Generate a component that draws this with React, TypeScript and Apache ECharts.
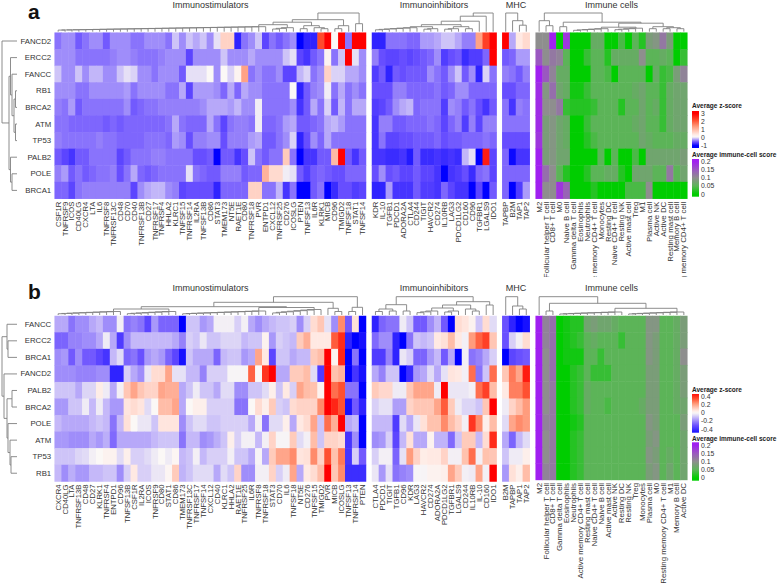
import React, { useEffect, useRef } from "react";
import * as echarts from "echarts";

const rowsA = ["FANCD2", "ERCC2", "FANCC", "RB1", "BRCA2", "ATM", "TP53", "PALB2", "POLE", "BRCA1"];
const rowsB = ["FANCC", "ERCC2", "BRCA1", "FANCD2", "PALB2", "BRCA2", "POLE", "ATM", "TP53", "RB1"];

const aStimLabels = ["CSF1R", "TNFRSF9", "ICOS", "CD40LG", "CXCR4", "LTA", "IL6", "TNFRSF8", "TNFRSF13C", "CD48", "CD70", "CD40", "TNFRSF13B", "CD27", "TNFRSF17", "TNFRSF4", "HHLA2", "KLRC1", "TNFSF15", "TNFRSF14", "IL2RA", "TNFSF13B", "CD86", "STAT3", "TMEM173", "NT5E", "RAET1E", "CD80", "TNFRSF18", "PVR", "ENTPD1", "CXCL12", "TNFRSF25", "CD276", "ICOSLG", "PTEN", "TNFSF13", "IL6R", "KLRK1", "MICB", "CD96", "TMIGD2", "TNFSF18", "STAT1", "TNFSF14"];
const aInhLabels = ["KDR", "IL-10", "TGFB1", "PDCD1", "ADORA2A", "CTLA4", "CD244", "TIGIT", "HAVCR2", "CD274", "IL10RB", "LAG3", "PDCD1LG2", "CD160", "CD96", "TGFBR1", "LGALS9", "IDO1"];
const aMhcLabels = ["TAPBP", "B2M", "TAP1", "TAP2"];
const aCellLabels = ["M2", "Follicular helper T cell", "CD8+ T cell", "M0", "Naive B cell", "Gamma delta T cell", "Eosinophils", "Neutrophils", "Active memory CD4+ T cell", "Monocytes", "Resting DC", "Naive CD4+ T cell", "Resting NK", "Active mast cell", "Treg", "M1", "Plasma cell", "Active NK", "Active DC", "Resting mast cell", "Memory B cell", "Resting memory CD4+ T cell"];
const bStimLabels = ["CXCR4", "CD40LG", "LTA", "TNFRSF13B", "CD48", "CD27", "KLRK1", "TNFRSF4", "ENTPD1", "CD96", "TNFSF13B", "CSF1R", "IL2RA", "ICOS", "TNFRSF9", "CD80", "STAT1", "CD86", "TMEM173", "TNFRSF13C", "TNFRSF17", "TNFSF14", "CXCL12", "CD40", "KLRC1", "HHLA2", "RAET1E", "TNFRSF25", "IL6R", "TNFRSF8", "TNFRSF18", "STAT3", "CD70", "IL6", "TNFSF18", "NT5E", "CD276", "TNFSF15", "TMIGD2", "PVR", "MICB", "ICOSLG", "TNFSF13", "TNFRSF14", "PTEN"];
const bInhLabels = ["CTLA4", "PDCD1", "TIGIT", "TGFB1", "CD96", "KDR", "LAG3", "HAVCR2", "CD274", "ADORA2A", "PDCD1LG2", "TGFBR1", "LGALS9", "CD244", "IL10RB", "IL-10", "CD160", "IDO1"];
const bMhcLabels = ["B2M", "TAPBP", "TAP1", "TAP2"];
const bCellLabels = ["M2", "Follicular helper T cell", "CD8+ T cell", "Gamma delta T cell", "Eosinophils", "Neutrophils", "Active memory CD4+ T cell", "Resting mast cell", "Naive CD4+ T cell", "Naive B cell", "Active mast cell", "Active NK", "Resting DC", "Resting NK", "Treg", "Monocytes", "Plasma cell", "M0", "Resting memory CD4+ T cell", "M1", "Memory B cell", "Active DC"];

const aStim = [
  [-.4,-.3,-.3,-.5,-.4,-.3,-.3,-.5,-.3,-.3,-.3,-.4,-.4,-.3,-.3,-.3,-.4,-.1,-.3,-.1,-.2,-.1,-.3,0,.7,.7,-.8,-.4,-.3,-.1,-.6,-.4,-.5,-.4,-.3,-1,-.8,-.8,2.2,3,.1,3,-.4,3,3],
  [-.3,-.3,-.3,-.4,-.4,-.4,-.4,-.4,-.35,-.3,-.3,-.35,-.4,-.4,-.4,-.35,-.3,-.3,-.3,-.6,-.3,-.3,-.3,-.3,-.1,-.3,-.3,-.3,-.2,-.3,-.3,-.3,-.3,-.1,0,-.6,-.7,-.5,-.4,.2,-.4,-.1,3,0,-.3],
  [-.1,-.3,-.3,-.1,-.3,-.15,-.15,-.3,-.3,-.1,0,-.05,-.3,-.3,-.4,-.3,-.3,-.3,-.5,0,0,0,.1,-.3,.1,-.05,.2,1.3,-.4,-.3,-.4,-.4,-.3,-.6,-.6,-.15,-.05,-.4,-.3,.7,-.05,-.05,-.2,-.2,-.3],
  [-.3,-.3,-.3,-.4,-.4,-.3,-.3,-.3,-.3,-.3,-.25,-.4,-.3,-.3,-.3,-.3,-.4,-.4,-.2,-.6,-.25,-.25,-.25,-.3,-.45,-.2,-.45,-.2,-.3,-.3,-.4,-.4,-.4,-.4,.1,-.8,-.5,-.35,-.3,.05,-.4,-.2,-.4,-.3,-.4],
  [-.35,-.4,-.25,-.5,-.4,-.4,-.4,-.4,-.4,-.4,-.3,-.5,-.45,-.4,-.4,-.35,-.35,-.35,-.35,-.35,-.35,-.3,-.2,-.2,-.2,-.25,-.15,-.3,-.3,.05,-.4,-.4,-.4,-.4,-.3,-.7,-.5,-.2,-.4,-.05,-.5,-.15,-.4,-.2,-.2],
  [-.4,-.4,-.45,-.45,-.45,-.45,-.45,-.5,-.45,-.5,-.45,-.45,-.45,-.45,-.45,-.45,-.4,-.2,-.4,-.45,-.45,-.45,-.2,-.4,-.6,-.4,-.35,-.35,-.4,.05,-.45,-.45,-.4,-.25,-.2,-.5,-.5,-.45,-.4,-.2,-.15,-.25,-.4,-.4,-.4],
  [-.35,-.4,-.4,-.4,-.4,-.4,-.35,-.4,-.4,-.45,-.45,-.45,-.45,-.4,-.4,-.4,-.45,-.25,-.3,-.55,-.35,-.35,-.3,-.3,-.55,-.35,-.35,-.35,-.25,-.2,-.5,-.5,-.4,-.3,-.05,-.8,-.55,-.3,-.45,-.2,-.4,-.4,-.4,-.4,-.4],
  [-.5,-.6,-.7,-.5,-.5,-.4,-.4,-.4,-.4,-.6,-.5,-.4,-.4,-.4,-.35,-.35,-.4,-.4,-.4,-.4,-.55,-.55,-.5,-1,-.5,-.5,-.7,-.55,-.1,-.4,-.5,-.4,-.4,.8,-.4,-1,-.7,-.7,-.5,-.5,1,3,-.5,-.7,-.5],
  [-.35,-.25,-.5,-.4,-.5,-.45,-.4,-.4,-.35,-.55,-.4,-.2,-.45,-.5,-.45,-.4,-.4,-.4,-.4,0,-.4,-.45,-.5,-.5,-.35,-.35,-.35,-.5,-.45,-.45,1.1,.6,.6,.05,0,-.5,-.65,-.5,-.45,-.5,-.55,-.55,-.45,-.45,-.45],
  [-.45,-.45,-.6,-.4,-.35,-.35,-.35,-.35,-.35,-.35,-.35,-.6,-.3,-.2,-.15,-.15,-.3,-.35,-.6,-.55,-.55,-.55,-.55,-.8,-.45,-.45,-.45,-.45,.7,.7,-.4,-.4,-.15,-.7,-.4,-1,-1,-.5,-.4,-1,-.75,-.55,-.55,-.65,-.6],
];
const aInh = [
  [-.8,-.8,-.4,-.4,-.4,-.45,-.45,-.25,-.25,-.2,-.1,-.1,-.2,-.35,-.35,1.3,2.3,3],
  [-.35,-.55,-.6,-.6,-.55,-.6,-.55,-.5,-.45,-.3,-.65,-.55,-.5,-.75,-.65,-.65,-.45,3],
  [-.65,-.5,-.8,-.5,-.55,-.5,-.5,-.5,-.3,-.4,-.5,-.3,-.1,-.5,-.3,-.8,-.05,-.4],
  [-.55,-.55,-.55,-.35,-.35,-.45,-.45,-.45,-.45,-.4,-.5,-.45,-.3,-.3,-.45,-.45,-.45,-.45],
  [-.65,-.6,-.5,-.3,-.2,-.15,-.45,-.4,-.4,-.4,-.65,-.3,-.35,-.5,-.4,-.55,-.7,-.5],
  [-.7,-.35,-.35,-.5,-.5,-.45,-.45,-.45,-.4,-.45,-.6,-.45,-.35,-.65,-.35,-.6,-.35,-.35],
  [-.7,-.4,-.6,-.6,-.55,-.55,-.5,-.5,-.5,-.45,-.55,-.5,-.5,-.45,-.45,-.45,-.4,-.45],
  [-.7,-.7,-.75,-.75,-.7,-.85,-.5,-.75,-.75,-.7,-.75,-.7,-.75,-.15,0,-1,2.7,-.6],
  [-.55,-.3,-.55,-.5,-.6,-.6,-.5,-.6,-.6,-.7,-1,-.7,-.65,-.55,-.75,-.45,-.4,-.6],
  [-.8,-.8,-.25,-.7,-.7,-.7,-.5,-.65,-.65,-.7,-.45,-.6,-.7,-.7,-1,-.6,-1,-.5],
];
const aMhc = [
  [3,-.2,.4,.6],
  [-.5,-.45,-.25,-.25],
  [-.35,-.4,-.5,-.35],
  [-.55,-.55,-.45,-.45],
  [-.4,-.7,-.35,-.4],
  [-.4,-.4,-.4,-.4],
  [-.55,-.55,-.55,-.55],
  [-.45,-.95,-.7,-.7],
  [-.45,-.45,-.45,-.45],
  [-.45,-1,-.65,-.25],
];
const aCell = [
  [.1,.1,.2,0,.18,0,0,0,.06,.06,0,0,.04,0,.05,.02,.08,.09,.12,.08,0,0],
  [.15,.1,.12,.11,.05,0,0,.03,.05,.05,.02,.06,.06,.06,.06,.1,.05,.05,.06,.05,0,.03],
  [.2,.15,.11,.06,.06,0,0,0,.05,.05,.04,0,.05,.05,.05,.05,0,.06,.03,.04,.08,.11],
  [.19,.09,.13,.07,.06,.01,.01,.03,.05,.05,.05,.05,.05,.05,.06,.07,.05,.05,.03,.06,.07,.07],
  [.19,.1,.1,.12,.03,.02,.02,.02,.03,.05,.05,.05,.02,.05,.05,.07,.05,.06,.03,.06,.07,.07],
  [.19,.08,.09,.07,.06,0,0,.03,.05,.05,.05,.05,.05,.05,.06,.07,.05,.05,.03,.06,.07,.07],
  [.18,.08,.09,.07,.06,0,0,.02,.04,.05,.05,.05,.05,.05,.05,.07,.06,.05,.05,.05,.06,.06],
  [.2,.08,.09,.07,.07,0,0,0,0,.05,0,.05,0,0,.04,0,.07,.07,.07,.07,.07,.08],
  [.2,.13,.1,.05,.02,0,0,.02,.05,.05,.06,.06,.02,0,.07,.07,.07,.05,.05,.12,.05,.07],
  [.2,.1,.1,.18,.14,0,0,0,.02,0,0,0,0,.04,.04,.04,.1,0,0,0,0,0],
];

const bStim = [
  [-.15,-.15,-.25,-.2,-.2,-.15,-.12,-.2,-.2,-.02,-.25,-.22,-.25,-.35,-.18,-.28,-.28,-.28,-.55,-.1,-.1,-.18,-.15,-.02,-.02,-.02,-.08,-.02,-.15,-.2,-.15,-.12,-.1,-.1,-.08,-.2,-.08,.08,.13,-.05,-.2,.25,-.3,.07,-.55],
  [-.28,-.28,-.22,-.22,-.2,-.2,-.15,-.03,-.15,-.38,-.2,-.12,-.12,-.12,-.12,-.12,-.12,-.15,-.22,-.08,-.1,-.04,-.1,-.1,-.07,-.07,-.07,-.12,-.1,-.1,.02,-.18,-.08,-.1,-.12,.12,.18,.05,.05,.05,.33,.42,-.45,-.55,-.5],
  [-.2,-.18,-.3,-.2,-.3,-.3,-.35,-.4,-.12,-.06,-.28,-.25,-.32,-.18,-.15,-.18,-.28,-.35,-.5,-.1,-.15,-.15,-.15,-.28,-.12,-.1,-.1,-.18,-.15,.2,.05,-.35,-.1,-.1,-.15,-.12,-.12,.12,.15,.5,.02,.43,-.55,-.25,-.55],
  [-.2,-.2,-.2,-.22,-.22,-.22,-.2,-.2,-.45,-.45,-.08,-.15,-.2,-.04,.08,.08,.2,-.05,-.05,-.12,-.12,-.22,-.08,-.08,-.08,-.01,-.01,-.01,.32,0,.4,.5,-.15,-.15,.12,.12,.15,-.06,-.38,.5,.14,.17,-.55,-.4,-.5],
  [-.1,-.1,-.1,-.15,-.07,-.07,.04,-.03,-.15,-.02,.13,.2,.13,.1,.1,.2,.18,.18,-.15,-.1,-.03,-.1,-.1,-.15,-.06,-.06,-.2,-.2,-.1,-.1,-.06,.03,-.1,.05,-.08,.2,.15,.14,.02,.5,.3,.35,-.25,-.25,-.55],
  [-.18,-.18,-.1,-.1,-.03,-.12,-.03,-.12,-.18,-.18,.06,.08,.06,-.06,0,.15,.15,.2,-.15,0,.03,.03,-.08,-.08,-.08,-.08,-.25,-.25,0,.08,.03,.12,-.08,-.1,.08,.1,.1,.1,.25,.5,.43,.35,-.5,-.3,-.45],
  [-.12,-.15,-.15,-.15,-.15,-.12,-.1,-.12,-.25,-.12,.07,0,-.04,-.04,-.1,.06,.06,.06,-.2,-.1,-.06,-.06,-.1,-.1,-.08,-.08,-.08,-.08,-.15,-.02,-.25,-.06,-.06,.03,-.15,.05,.08,.2,-.1,.3,.18,.5,-.15,-.12,-.55],
  [-.18,-.18,-.2,-.2,-.2,-.15,-.18,-.14,-.27,-.15,-.15,-.15,-.15,-.15,-.12,-.1,-.1,-.1,-.25,-.12,-.12,-.2,-.18,-.14,-.1,.03,-.08,-.02,-.02,-.12,-.02,.1,-.01,-.01,.12,-.06,-.02,.15,-.1,.1,.1,.08,-.4,-.2,-.55],
  [-.1,-.1,-.1,-.07,-.06,-.02,0,.02,.02,-.06,.03,-.08,-.08,-.06,-.03,0,-.03,.01,-.12,-.1,-.02,-.12,-.08,-.08,-.08,-.02,-.1,-.1,-.15,-.01,-.15,.12,.2,.2,.25,.06,.07,.25,.1,.35,.14,.28,-.4,-.08,-.3],
  [-.12,-.2,-.14,-.18,-.18,-.12,-.12,-.1,-.1,-.2,-.08,.05,-.08,-.08,-.04,-.04,.01,.12,-.13,-.1,-.06,-.06,-.06,-.15,-.06,-.1,.1,-.2,-.2,-.02,-.02,.1,-.08,-.03,.2,-.15,.05,.08,.15,.5,.13,.25,-.42,-.42,-.42],
];
const bInh = [
  [-.45,-.28,-.25,-.25,-.03,-.1,-.3,-.3,-.2,-.13,-.3,-.55,.08,.06,.02,-.1,.08,-.06],
  [-.27,-.2,-.2,-.45,-.55,-.25,-.1,-.12,-.1,.05,.07,.15,.05,-.02,.22,.32,.38,.13],
  [-.38,-.38,-.22,-.45,-.04,-.08,-.28,-.28,-.18,-.12,-.3,-.15,-.55,-.02,-.25,-.22,-.15,-.08],
  [-.15,-.22,-.1,-.1,-.55,-.42,-.18,-.15,-.06,-.15,-.05,.06,.05,-.02,.3,-.25,-.1,.3],
  [.12,.09,.09,-.03,-.03,.13,.2,.2,.2,-.03,.5,-.04,-.04,-.04,-.02,.3,.38,.15],
  [-.08,-.05,-.05,-.17,-.17,.1,.13,.13,.13,.2,.33,.12,-.03,-.07,-.07,-.1,.13,.5],
  [-.12,-.12,-.12,-.38,-.06,-.15,-.04,.07,.14,.14,.25,.15,.1,-.02,.4,.25,.03,.15],
  [-.2,-.18,-.08,-.35,-.12,.07,-.15,-.15,.02,-.13,-.13,-.27,-.1,.12,.12,-.12,.08,.42],
  [-.08,-.02,-.02,-.28,-.05,.22,.1,.04,.05,.05,.1,-.02,-.02,.14,.3,-.02,.14,.13],
  [-.04,-.18,-.05,-.25,-.22,-.2,-.01,-.01,.02,.02,.03,.2,.12,-.02,-.03,.2,-.02,.5],
];
const bMhc = [
  [-.32,-.45,-.55,-.5],
  [-.32,-.08,-.02,.08],
  [-.55,-.35,-.32,-.3],
  [.13,.28,.2,.45],
  [.05,.27,.27,.35],
  [-.03,.1,.15,.22],
  [-.06,.2,.25,.22],
  [-.15,-.28,-.12,-.06],
  [-.1,-.03,-.03,.03],
  [-.18,.07,.03,.15],
];
const bCell = [
  [.2,.11,.13,0,.01,.02,.02,.07,.08,.07,.07,.06,.05,.05,.05,.05,.09,.09,.05,.05,.06,.08],
  [.2,.11,.13,0,.01,.02,.03,.05,.06,.05,.05,.05,.03,.05,.05,.05,.09,.08,.05,.05,.06,.08],
  [.2,.1,.13,0,.01,.01,.01,.05,.05,.03,.05,.05,.05,.05,.05,.05,.09,.08,.05,.05,.06,.1],
  [.2,.1,.13,0,0,.02,.03,.05,.03,.03,.03,.05,.05,.05,.05,.05,.08,.08,.05,.05,.06,.08],
  [.2,.1,.12,0,0,.02,.03,.06,.05,.05,.05,.05,.05,.05,.05,.05,.08,.08,.05,.05,.06,.08],
  [.2,.1,.12,0,0,.02,.03,.06,.05,.05,.04,.05,.05,.05,.05,.06,.08,.08,.05,.05,.06,.07],
  [.2,.11,.12,0,0,.01,.02,.05,.05,.05,.05,.05,.05,.05,.05,.05,.09,.08,.05,.05,.05,.08],
  [.2,.1,.12,0,0,.02,.03,.05,.05,.05,.05,.05,.05,.05,.05,.05,.08,.09,.05,.05,.05,.07],
  [.2,.1,.12,0,0,.02,.03,.05,.05,.05,.05,.05,.05,.05,.05,.05,.09,.08,.05,.06,.05,.07],
  [.2,.11,.12,0,0,.02,.03,.05,.05,.05,.05,.05,.05,.05,.05,.05,.08,.09,.05,.07,.05,.07],
];

const zTicksA = [3, 2, 1, 0, -1];
const zTicksB = [0.4, 0.2, 0, -0.2, -0.4];
const cellTicks = [0.2, 0.15, 0.1, 0.05, 0];

const FONT = "'Liberation Sans', Arial, sans-serif";
const TXT = "#333333";

type Tree = number | { h: number; l: Tree; r: Tree };
const N = (h: number, l: Tree, r: Tree): Tree => ({ h, l, r });
const C = (a: number, b: number, h0: number, h1: number): Tree => {
  let t: Tree = a;
  for (let i = a + 1; i <= b; i++) t = N(h0 + ((h1 - h0) * (i - a)) / Math.max(1, b - a), t, i);
  return t;
};

const treeAStim = N(18.7, N(12, N(9.5, N(7, C(0, 30, 1.5, 5), C(31, 34, 2, 4)), N(6, N(3, 35, 36), N(4, 37, N(3, 38, 39)))), N(6, N(3, 40, 41), 42)), N(8, 43, 44));
const treeAInh = N(18.7, N(15.5, N(10.5, N(7, N(5, C(0, 6, 1.5, 4), C(7, 9, 2, 3)), N(5, C(10, 12, 2, 3), N(3, 13, 14))), 15), 16), 17);
const treeAMhc = N(18.7, 0, N(11, 1, N(6.5, 2, 3)));
const treeACell = N(18.7, N(11, 0, N(6, 1, 2)), N(9.5, N(5, 3, 4), N(8.5, N(4.5, C(5, 10, 1, 3), C(11, 15, 1.5, 3.5)), N(5, N(3, 16, 17), N(4, N(3, 18, 19), N(3, 20, 21))))));
const treeBStim = N(18.3, N(12.7, N(8.3, N(6, C(0, 9, 1, 3.5), C(10, 17, 1, 3.5)), N(7.5, C(18, 30, 1, 4), C(31, 38, 1.5, 5.5))), N(6.7, 39, N(3.5, 40, 41))), N(7.7, N(3.5, 42, 43), 44));
const treeBInh = N(18.3, N(10.3, N(6, N(3.5, 0, 1), N(4, 2, 3)), N(4, 4, 5)), N(13.3, N(10, N(7, C(6, 9, 1.5, 4), C(10, 12, 2, 4)), N(6, 13, N(4, 14, 15))), N(10, 16, 17)));
const treeBMhc = N(18.3, 0, N(9, 1, N(6, 2, 3)));
const treeBCell = N(18.3, 0, N(11.7, N(4, 1, 2), N(6.7, C(3, 12, 0.8, 3), C(13, 21, 0.8, 3))));
const treeARows = N(15, 0, N(8, N(6.5, 1, N(5, 2, N(3, N(1.5, 3, 4), N(1.5, 5, 6)))), N(6.5, 7, N(5, 8, 9))));
const treeBRows = N(15, N(10, 0, N(9, 1, 2)), N(13, 3, N(10, N(5, 4, 5), N(9, 6, N(7, 7, N(6, 8, 9))))));

type Stop = [number, string];
type Pal = { low: Stop[]; high: Stop[] };
const hex = (s: string) => [1, 3, 5].map((i) => parseInt(s.slice(i, i + 2), 16));
const lerpStops = (stops: Stop[], t: number) => {
  for (let i = 1; i < stops.length; i++) {
    if (t <= stops[i][0]) {
      const [t0, c0] = stops[i - 1];
      const [t1, c1] = stops[i];
      const a = hex(c0), b = hex(c1), u = (t - t0) / (t1 - t0);
      return "rgb(" + a.map((x, j) => Math.round(x + (b[j] - x) * u)).join(",") + ")";
    }
  }
  return stops[stops.length - 1][1];
};
const colorAt = (v: number, min: number, mid: number, max: number, p: Pal) => {
  const x = Math.max(min, Math.min(max, v));
  return x < mid ? lerpStops(p.low, (x - min) / (mid - min)) : lerpStops(p.high, (x - mid) / (max - mid));
};
const BWR: Pal = {
  low: [[0, "#0000ff"], [0.25, "#4030ff"], [0.42, "#6a50ff"], [0.6, "#9682fa"], [0.78, "#c4b8f9"], [0.94, "#eeeaf5"], [1, "#fbf8f6"]],
  high: [[0, "#fbf8f6"], [0.1, "#ffeae4"], [0.25, "#ffc8b8"], [0.45, "#ff9a7a"], [0.7, "#ff5030"], [1, "#ff0000"]],
};
const GGP: Pal = {
  low: [[0, "#00cd00"], [0.5, "#5cb458"], [1, "#8e8e8e"]],
  high: [[0, "#8e8e8e"], [0.5, "#9a58c0"], [1, "#a020f0"]],
};
const ramp = (min: number, mid: number, max: number, p: Pal) =>
  Array.from({ length: 81 }, (_, i) => colorAt(min + ((max - min) * i) / 80, min, mid, max, p));

const X_STIM = [54.7, 311.3];
const X_INH = [372, 124.6];
const X_MHC = [502.3, 27.4];
const X_CELL = [535.7, 151.6];
const PANELS = [
  { top: 32.7, h: 166, rows: rowsA, parts: [aStim, aInh, aMhc, aCell], labels: [aStimLabels, aInhLabels, aMhcLabels, aCellLabels], trees: [treeAStim, treeAInh, treeAMhc, treeACell], rowTree: treeARows, zr: [-1, 0.1, 3], letter: "a" },
  { top: 316, h: 165.5, rows: rowsB, parts: [bStim, bInh, bMhc, bCell], labels: [bStimLabels, bInhLabels, bMhcLabels, bCellLabels], trees: [treeBStim, treeBInh, treeBMhc, treeBCell], rowTree: treeBRows, zr: [-0.55, 0, 0.5], letter: "b" },
];

function topTree(t: Tree, x0: number, w: number, base: number, out: any[]): { c: number; h: number } {
  if (typeof t === "number") return { c: x0 + (t + 0.5) * w, h: 0 };
  const l = topTree(t.l, x0, w, base, out);
  const r = topTree(t.r, x0, w, base, out);
  out.push({ type: "polyline", silent: true, z: 60, shape: { points: [[l.c, base - l.h], [l.c, base - t.h], [r.c, base - t.h], [r.c, base - r.h]] }, style: { stroke: "#808080", lineWidth: 0.9, fill: "none" } });
  return { c: (l.c + r.c) / 2, h: t.h };
}
function leftTree(t: Tree, y0: number, rh: number, base: number, out: any[]): { c: number; h: number } {
  if (typeof t === "number") return { c: y0 + (t + 0.5) * rh, h: 0 };
  const l = leftTree(t.l, y0, rh, base, out);
  const r = leftTree(t.r, y0, rh, base, out);
  out.push({ type: "polyline", silent: true, z: 60, shape: { points: [[base - l.h, l.c], [base - t.h, l.c], [base - t.h, r.c], [base - r.h, r.c]] }, style: { stroke: "#808080", lineWidth: 0.9, fill: "none" } });
  return { c: (l.c + r.c) / 2, h: t.h };
}
const label = (text: string, x: number, y: number, size: number, extra: any = {}) => ({
  type: "text", silent: true, z: 60, x, y,
  style: { text, fontFamily: FONT, fontSize: size, fill: TXT, textAlign: "left", textVerticalAlign: "middle", ...extra },
});
function legendBar(x: number, y0: number, y1: number, vTop: number, vBot: number, cr: number[], p: Pal) {
  const stops = Array.from({ length: 33 }, (_, i) => ({ offset: i / 32, color: colorAt(vTop + ((vBot - vTop) * i) / 32, cr[0], cr[1], cr[2], p) }));
  return { type: "rect", silent: true, z: 60, shape: { x, y: y0, width: 7, height: y1 - y0 }, style: { fill: new echarts.graphic.LinearGradient(0, 0, 0, 1, stops) } };
}

export default function App() {
  const ref = useRef<HTMLDivElement>(null);
  useEffect(() => {
    const chart = echarts.init(ref.current!, undefined, { renderer: "svg" });
    const grid: any[] = [], xAxis: any[] = [], yAxis: any[] = [], series: any[] = [], graphic: any[] = [];
    const seriesIdx: number[][] = [[], [], [], []];
    PANELS.forEach((p, pi) => {
      [X_STIM, X_INH, X_MHC, X_CELL].forEach((xw, gi) => {
        const idx = grid.length;
        grid.push({ left: xw[0], top: p.top, width: xw[1], height: p.h });
        xAxis.push({
          type: "category", gridIndex: idx, data: p.labels[gi], axisLine: { show: false }, axisTick: { show: false }, splitLine: { show: false },
          axisLabel: { interval: 0, rotate: 90, fontSize: gi === 3 ? 7.9 : 7.7, fontFamily: FONT, color: TXT, margin: 3 },
        });
        yAxis.push({
          type: "category", gridIndex: idx, data: p.rows, inverse: true, axisLine: { show: false }, axisTick: { show: false }, splitLine: { show: false },
          axisLabel: { show: gi === 0, interval: 0, fontSize: 7.8, fontFamily: FONT, color: TXT, margin: 3.5 },
        });
        const data: number[][] = [];
        p.parts[gi].forEach((row, y) => row.forEach((v, x) => data.push([x, y, v])));
        seriesIdx[pi * 2 + (gi === 3 ? 1 : 0)].push(series.length);
        series.push({ type: "heatmap", xAxisIndex: idx, yAxisIndex: idx, data, progressive: 0, itemStyle: { borderWidth: 0 }, emphasis: { disabled: true } });
        topTree(p.trees[gi], xw[0], xw[1] / p.labels[gi].length, p.top - 1, graphic);
      });
      leftTree(p.rowTree, p.top, p.h / 10, 17, graphic);
      const ty = p.top - (pi === 0 ? 27.7 : 28);
      graphic.push(label("Immunostimulators", 210.5, ty, 9, { textAlign: "center" }));
      graphic.push(label("Immunoinhibitors", 434, ty, 9, { textAlign: "center" }));
      graphic.push(label("MHC", 516, ty, 9, { textAlign: "center" }));
      graphic.push(label("Immune cells", 611.5, ty, 9, { textAlign: "center" }));
      graphic.push(label(p.letter, 28, pi === 0 ? 11 : 291, 21, { fontWeight: "bold", fill: "#111" }));
    });

    // the long immune-cell labels of panel a are cut off in the reference just under y = 277
    graphic.push({ type: "rect", silent: true, z: 50, shape: { x: 536, y: 277, width: 154, height: 33 }, style: { fill: "#ffffff" } });

    // legends
    const BOLD = { fontWeight: "bold", fill: "#222" };
    graphic.push(label("Average z-score", 692, 105.7, 6.5, BOLD));
    graphic.push(legendBar(692, 111, 148, 3.3, -1.28, PANELS[0].zr, BWR));
    zTicksA.forEach((t, i) => graphic.push(label(String(t), 701, 113.5 + i * 8.05, 6.8)));
    graphic.push(label("Average immune-cell score", 692, 154.3, 6.5, BOLD));
    graphic.push(legendBar(692, 159, 196.7, 0.217, -0.017, [0, 0.1, 0.2], GGP));
    cellTicks.forEach((t, i) => graphic.push(label(String(t), 701, 161.7 + i * 8.08, 6.8)));
    graphic.push(label("Average z-score", 692, 389.3, 6.5, BOLD));
    graphic.push(legendBar(692, 394, 432.7, 0.47, -0.5, PANELS[1].zr, BWR));
    zTicksB.forEach((t, i) => graphic.push(label(String(t), 701, 396.7 + i * 8.08, 6.8)));
    graphic.push(label("Average immune-cell score", 692, 438, 6.5, BOLD));
    graphic.push(legendBar(692, 442.3, 480.7, 0.217, -0.017, [0, 0.1, 0.2], GGP));
    cellTicks.forEach((t, i) => graphic.push(label(String(t), 701, 445.7 + i * 8.0, 6.8)));

    const vm = (seriesIndex: number[], cr: number[], p: Pal) => ({
      show: false, type: "continuous", seriesIndex, min: cr[0], max: cr[2], calculable: false, inRange: { color: ramp(cr[0], cr[1], cr[2], p) },
    });
    chart.setOption({
      animation: false,
      backgroundColor: "#ffffff",
      grid, xAxis, yAxis, series,
      visualMap: [
        vm(seriesIdx[0], PANELS[0].zr, BWR),
        vm(seriesIdx[1], [0, 0.1, 0.2], GGP),
        vm(seriesIdx[2], PANELS[1].zr, BWR),
        vm(seriesIdx[3], [0, 0.1, 0.2], GGP),
      ],
      graphic,
    });
    return () => chart.dispose();
  }, []);
  return <div ref={ref} style={{ position: "absolute", left: 0, top: 0, width: 778, height: 587 }} />;
}
